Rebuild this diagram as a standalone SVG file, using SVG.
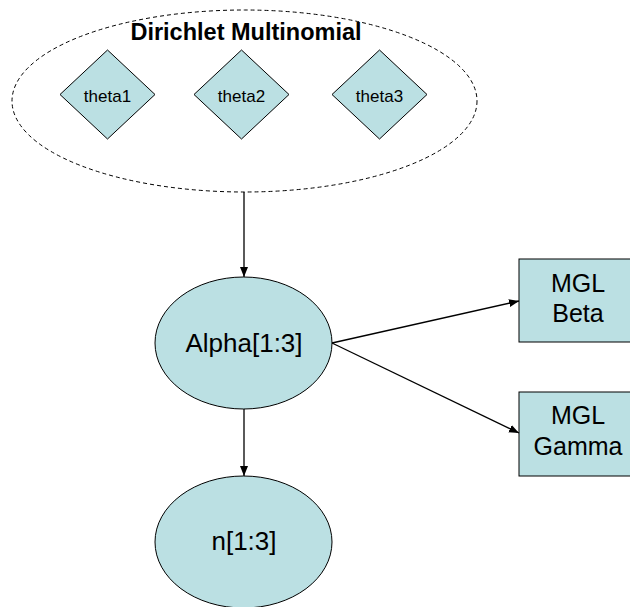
<svg xmlns="http://www.w3.org/2000/svg" width="630" height="607" viewBox="0 0 630 607">
<defs>
<marker id="arr" viewBox="0 0 10 10" refX="10" refY="5" markerWidth="10" markerHeight="10" markerUnits="userSpaceOnUse" orient="auto">
<path d="M0,1 L10,5 L0,9 Z" fill="#000"/>
</marker>
<style>
.n{fill:#BBE0E3;stroke:#000;stroke-width:1}
.t{font-family:"Liberation Sans",Arial,sans-serif;fill:#000;text-anchor:middle}
.c{stroke:#000;stroke-width:1.3;fill:none;marker-end:url(#arr)}
</style>
</defs>
<rect width="630" height="607" fill="#fff"/>
<g id="dirichlet">
<ellipse cx="244.5" cy="101" rx="232.5" ry="91" fill="none" stroke="#000" stroke-width="1" stroke-dasharray="4,3"/>
<text class="t" x="246" y="39.5" font-size="23.5" font-weight="bold">Dirichlet Multinomial</text>
</g>
<g id="theta1">
<polygon class="n" points="107.5,50 155,94.5 107.5,139 60,94.5"/>
<text class="t" x="107.5" y="101.5" font-size="17">theta1</text>
</g>
<g id="theta2">
<polygon class="n" points="241.5,50 289,94.5 241.5,139 194,94.5"/>
<text class="t" x="241.5" y="101.5" font-size="17">theta2</text>
</g>
<g id="theta3">
<polygon class="n" points="379.5,50 427,94.5 379.5,139 332,94.5"/>
<text class="t" x="379.5" y="101.5" font-size="17">theta3</text>
</g>
<g id="alpha">
<ellipse class="n" cx="243.5" cy="343" rx="88.5" ry="66"/>
<text class="t" x="244" y="351.5" font-size="26">Alpha[1:3]</text>
</g>
<g id="n">
<ellipse class="n" cx="243.5" cy="542" rx="88.5" ry="66"/>
<text class="t" x="244" y="550" font-size="26">n[1:3]</text>
</g>
<g id="beta">
<rect class="n" x="519" y="259" width="120" height="83"/>
<text class="t" x="578" y="291.5" font-size="25">MGL</text>
<text class="t" x="578" y="322" font-size="25">Beta</text>
</g>
<g id="gamma">
<rect class="n" x="519" y="392" width="120" height="84"/>
<text class="t" x="578" y="424" font-size="25">MGL</text>
<text class="t" x="578" y="455" font-size="25">Gamma</text>
</g>
<g id="connectors">
<line class="c" x1="244" y1="192" x2="244" y2="277"/>
<line class="c" x1="244" y1="409" x2="244" y2="476"/>
<line class="c" x1="332" y1="343" x2="519" y2="301"/>
<line class="c" x1="332" y1="343" x2="519" y2="433"/>
</g>
</svg>
